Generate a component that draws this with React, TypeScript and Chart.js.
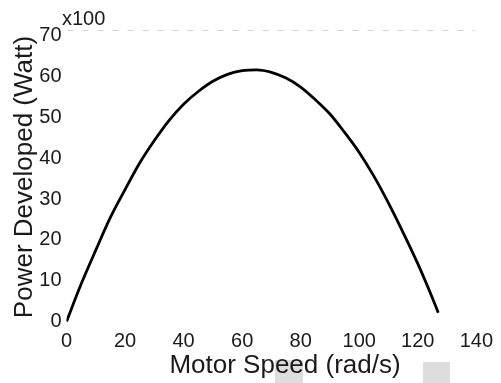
import React, { useEffect, useRef } from "react";
import { Chart, registerables } from "chart.js";

Chart.register(...registerables);

// Motor speed (rad/s)
const speeds = [0, 5, 10, 15, 20, 25, 30, 35, 40, 45, 50, 55, 60, 65, 70, 75, 80, 85, 90, 95, 100, 105, 110, 115, 120, 125, 127];
// Power developed (x100 Watt)
const power = [0, 9.2, 17.5, 25.5, 32.3, 38.8, 44.3, 49.2, 53.2, 56.3, 58.8, 60.5, 61.4, 61.6, 61.0, 59.6, 57.4, 54.3, 50.8, 46.3, 41.4, 35.6, 29.0, 21.8, 14.2, 5.8, 2.2];

const xTicks = [0, 20, 40, 60, 80, 100, 120, 140];
const yTicks = [0, 10, 20, 30, 40, 50, 60, 70];

const xTitle = "Motor Speed (rad/s)";
const yTitle = "Power Developed (Watt)";
const multiplier = "x100";

const FONT = "'Liberation Sans', Arial, sans-serif";
const TEXT = "#1a1a1a";

const decorPlugin = {
  id: "decor",
  afterDraw(chart: any) {
    const { ctx, chartArea } = chart;
    ctx.save();
    // scan artefact squares
    ctx.fillStyle = "#dddddd";
    ctx.fillRect(275, 360, 28, 23);
    ctx.fillRect(423, 362, 27, 21);
    // faint dashed top border
    ctx.strokeStyle = "#d2d2d2";
    ctx.lineWidth = 1.2;
    ctx.setLineDash([6, 9]);
    ctx.beginPath();
    ctx.moveTo(chartArea.left + 1, chartArea.top - 5);
    ctx.lineTo(chartArea.right - 2, chartArea.top - 5);
    ctx.stroke();
    ctx.setLineDash([]);
    // texts
    ctx.fillStyle = TEXT;
    ctx.textBaseline = "alphabetic";
    ctx.font = `26px ${FONT}`;
    ctx.textAlign = "center";
    ctx.fillText(xTitle, 285, 373);
    ctx.save();
    ctx.translate(31.5, 177);
    ctx.rotate(-Math.PI / 2);
    ctx.fillText(yTitle, 0, 0);
    ctx.restore();
    ctx.font = `20px ${FONT}`;
    ctx.textAlign = "left";
    ctx.fillText(multiplier, 62, 25);
    ctx.restore();
  },
};

export default function App() {
  const ref = useRef<HTMLCanvasElement>(null);
  useEffect(() => {
    if (!ref.current) return;
    const chart = new Chart(ref.current, {
      type: "line",
      data: {
        datasets: [
          {
            data: speeds.map((s, i) => ({ x: s, y: power[i] })),
            borderColor: "#000000",
            borderWidth: 2.8,
            pointRadius: 0,
            cubicInterpolationMode: "monotone",
            fill: false,
          },
        ],
      },
      options: {
        animation: false,
        responsive: true,
        maintainAspectRatio: false,
        layout: { padding: { left: 0, top: 35.5, right: 20, bottom: 0 } },
        plugins: { legend: { display: false }, tooltip: { enabled: false } },
        scales: {
          x: {
            type: "linear",
            min: 0,
            max: 140,
            afterBuildTicks: (scale: any) => {
              scale.ticks = xTicks.map((v) => ({ value: v }));
            },
            afterFit: (scale: any) => {
              scale.height = 61.3;
            },
            grid: { display: false, drawTicks: false },
            border: { display: false },
            ticks: { padding: 8, color: TEXT, font: { family: FONT, size: 20 }, maxRotation: 0, autoSkip: false },
          },
          y: {
            type: "linear",
            min: 0,
            max: 70,
            afterBuildTicks: (scale: any) => {
              scale.ticks = yTicks.map((v) => ({ value: v }));
            },
            afterFit: (scale: any) => {
              scale.width = 66.5;
            },
            grid: { display: false, drawTicks: false },
            border: { display: false },
            ticks: { padding: 5, color: TEXT, font: { family: FONT, size: 20 }, autoSkip: false },
          },
        },
      },
      plugins: [decorPlugin],
    });
    return () => chart.destroy();
  }, []);
  return (
    <div style={{ position: "fixed", left: 0, top: 0, width: 501, height: 383, background: "#fff" }}>
      <canvas ref={ref} />
    </div>
  );
}
